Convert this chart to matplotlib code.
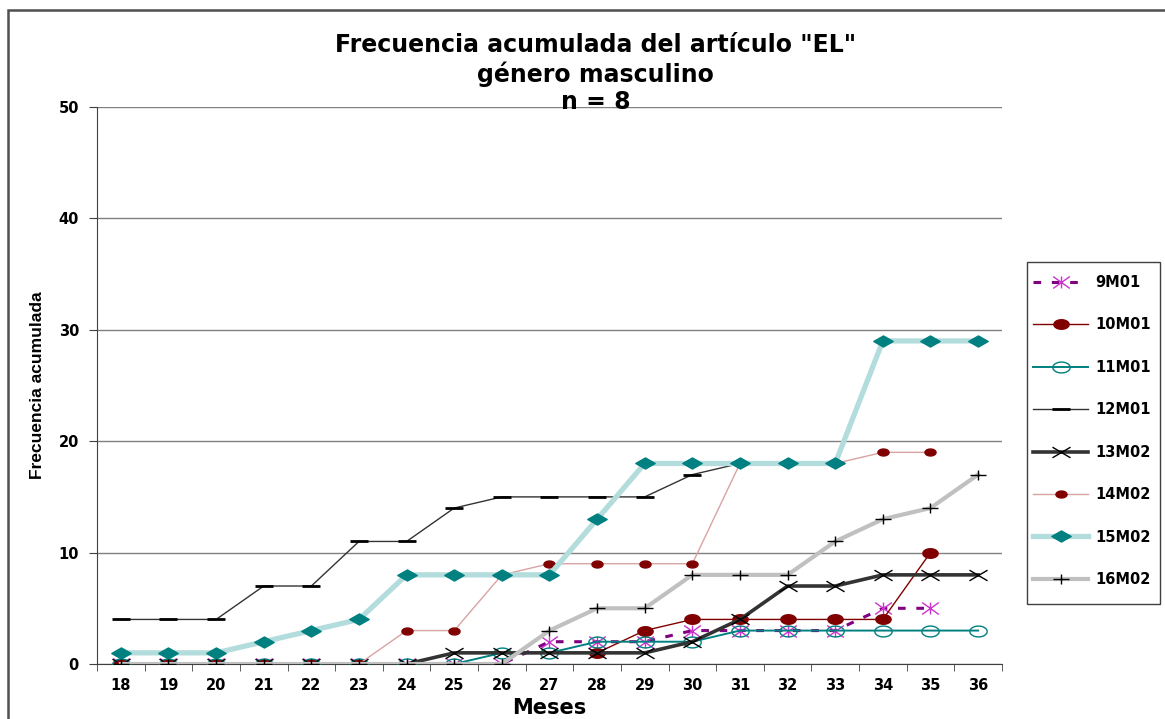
import numpy as np
import matplotlib
matplotlib.use("Agg")
from matplotlib import pyplot as plt
from matplotlib.path import Path
from matplotlib.patches import Rectangle

nan = np.nan

meses = ['18', '19', '20', '21', '22', '23', '24', '25', '26', '27',
         '28', '29', '30', '31', '32', '33', '34', '35', '36']

s_9m01 = [0, 0, 0, 0, 0, 0, 0, 0, 0, 2, 2, 2, 3, 3, 3, 3, 5, 5, nan]
s_10m01 = [0, 0, 0, 0, 0, 0, nan, nan, nan, nan, 1, 3, 4, 4, 4, 4, 4, 10, nan]
s_11m01 = [0, 0, 0, 0, 0, 0, 0, 0, 1, 1, 2, 2, 2, 3, 3, 3, 3, 3, 3]
s_12m01 = [4, 4, 4, 7, 7, 11, 11, 14, 15, 15, 15, 15, 17, 18, 18, 18, nan, nan, nan]
s_13m02 = [0, 0, 0, 0, 0, 0, 0, 1, 1, 1, 1, 1, 2, 4, 7, 7, 8, 8, 8]
s_14m02 = [0, 0, 0, 0, 0, 0, 3, 3, 8, 9, 9, 9, 9, 18, 18, 18, 19, 19, nan]
s_15m02 = [1, 1, 1, 2, 3, 4, 8, 8, 8, 8, 13, 18, 18, 18, 18, 18, 29, 29, 29]
s_16m02 = [0, 0, 0, 0, 0, 0, 0, 0, 0, 3, 5, 5, 8, 8, 8, 11, 13, 14, 17]

# Excel style markers, stretched sideways like in the original sheet
t = np.linspace(0, 2 * np.pi, 40)
ellipse = Path(np.column_stack([1.6 * np.cos(t), np.sin(t)]), closed=True)
diamond = Path([(-1.75, 0), (0, 1), (1.75, 0), (0, -1), (-1.75, 0)], closed=True)
seg = [Path.MOVETO, Path.LINETO] * 3
star = Path([(-1.4, -1), (1.4, 1), (-1.4, 1), (1.4, -1), (0, -1), (0, 1)], seg)
xmark = Path([(-1.7, -1), (1.7, 1), (-1.7, 1), (1.7, -1)], seg[:4])
plus = Path([(-1.4, 0), (1.4, 0), (0, -1), (0, 1)], seg[:4])
dash = Path([(-1, 0), (1, 0)], seg[:2])

font_main = ['DejaVu Sans']

fig = plt.figure(figsize=(11.65, 7.19), dpi=100)
ax = fig.add_axes([0.0833, 0.0765, 0.7767, 0.7747])

x = np.arange(len(meses))

ax.plot(x, s_9m01, color='#800080', lw=2.2, ls=(0, (2.5, 3.5)), marker=star, ms=12,
        mec='#cc33cc', mfc='none', mew=1, label='9M01', zorder=3)
ax.plot(x, s_10m01, color='#800000', lw=1, marker=ellipse, ms=11,
        mec='#800000', mfc='#800000', label='10M01', zorder=4)
ax.plot(x, s_11m01, color='#008080', lw=1.4, marker=ellipse, ms=12.5,
        mec='#008080', mfc='none', mew=1, label='11M01', zorder=5)
ax.plot(x, s_12m01, color='#333333', lw=1, marker=dash, ms=13,
        mec='#000000', mew=2, label='12M01', zorder=6)
ax.plot(x, s_13m02, color='#333333', lw=2.6, marker=xmark, ms=13,
        mec='#000000', mfc='none', mew=1, label='13M02', zorder=7)
ax.plot(x, s_14m02, color='#d9a3a3', lw=1, marker=ellipse, ms=8,
        mec='#800000', mfc='#800000', label='14M02', zorder=8)
ax.plot(x, s_15m02, color='#b3dcdc', lw=3.8, marker=diamond, ms=14,
        mec='#008080', mfc='#008080', label='15M02', zorder=9)
ax.plot(x, s_16m02, color='#c0c0c0', lw=3, marker=plus, ms=11,
        mec='#000000', mfc='none', mew=1, label='16M02', zorder=10)

ax.set_xlim(-0.5, len(meses) - 0.5)
ax.set_ylim(0, 50)
ax.set_yticks([0, 10, 20, 30, 40, 50])
ax.set_xticks(x)
ax.set_xticklabels(meses)
ax.set_xticks(np.arange(len(meses) + 1) - 0.5, minor=True)
ax.tick_params(axis='x', which='major', length=0, pad=10)
ax.tick_params(axis='x', which='minor', length=5, direction='out', color='#404040')
ax.tick_params(axis='y', length=6, direction='out', color='#404040', pad=7)
for lab in ax.get_xticklabels() + ax.get_yticklabels():
    lab.set_fontweight('bold')
    lab.set_fontsize(10.5)
    lab.set_family(font_main)

ax.grid(axis='y', color='#808080', lw=1)
ax.set_axisbelow(True)
for side in ['top', 'right']:
    ax.spines[side].set_visible(False)
ax.spines['left'].set_color('#404040')
ax.spines['bottom'].set_color('#404040')

ax.set_xlabel('Meses', fontsize=15, fontweight='bold', family=font_main, labelpad=4)
ax.set_ylabel('Frecuencia acumulada', fontsize=12.5, fontweight='bold',
              family=['Liberation Sans', 'DejaVu Sans'], labelpad=10)

fig.text(0.511, 1 - 33 / 719,
         'Frecuencia acumulada del artículo "EL"\ngénero masculino\nn = 8',
         ha='center', va='top', fontsize=17, fontweight='bold', family=font_main,
         linespacing=1.2)

leg = fig.legend(loc='upper left', bbox_to_anchor=(1033 / 1165, 1 - 275 / 719),
                 prop={'family': font_main, 'weight': 'bold', 'size': 10.5},
                 frameon=False, handlelength=3.8, labelspacing=1.88, borderpad=0,
                 handletextpad=0.5, borderaxespad=0)

# legend box, drawn separately so the rows keep the original spacing
fig.patches.append(Rectangle((1027 / 1165, 1 - 604 / 719), 133 / 1165, 342 / 719,
                             transform=fig.transFigure, fill=False,
                             edgecolor='#404040', lw=1))

# chart border
fig.patches.append(Rectangle((8 / 1165, -0.1), 1.2, 1 - 10 / 719 + 0.1,
                             transform=fig.transFigure, fill=False,
                             edgecolor='#505050', lw=1.8))

fig.savefig('out.png', dpi=100)
